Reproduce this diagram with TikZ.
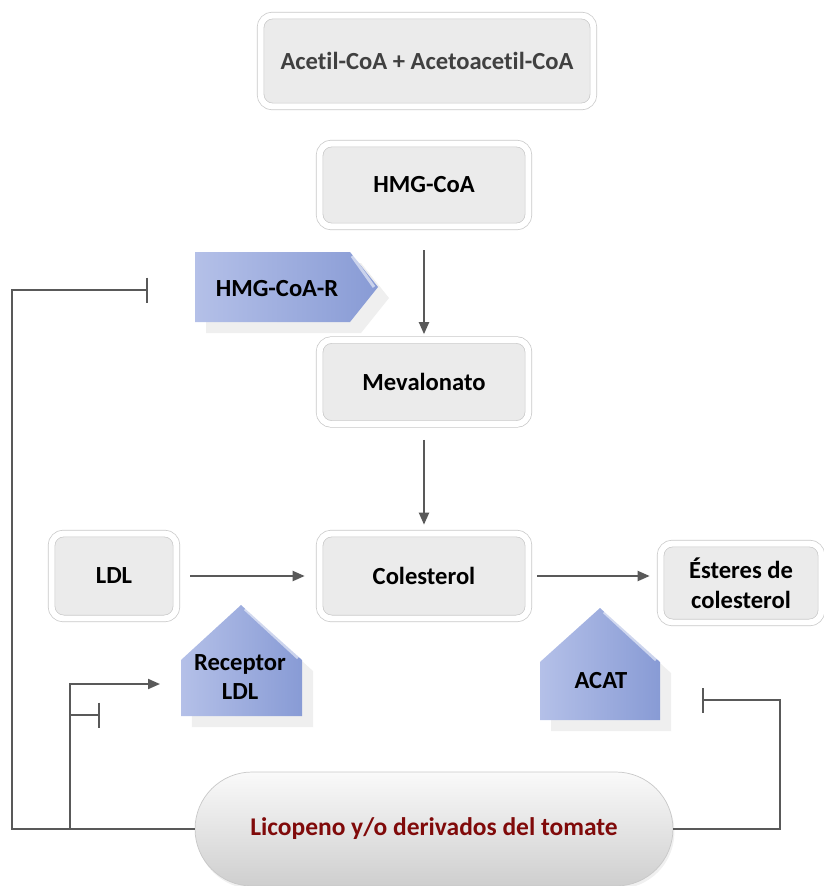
\documentclass[tikz,border=0pt]{standalone}
\usepackage{fontspec}
\setmainfont{Carlito}[Ligatures={NoCommon,NoContextual,NoRequired}]
\usetikzlibrary{shadows,arrows.meta}
\definecolor{boxfill}{RGB}{235,235,235}
\definecolor{boxline}{RGB}{200,200,200}
\definecolor{linegray}{RGB}{89,89,89}
\definecolor{enzleft}{RGB}{180,192,232}
\definecolor{enzright}{RGB}{136,155,213}
\definecolor{licored}{RGB}{128,10,10}
\definecolor{titlegray}{RGB}{64,64,64}

\begin{document}
\begin{tikzpicture}[x=0.02cm, y=-0.02cm,
    box_node/.style={rectangle, rounded corners=0.24cm, draw=boxline, double=white, double distance=0.12cm,
        fill=boxfill, font=\bfseries\fontsize{14}{17}\selectfont, align=center,
        drop shadow={opacity=0.15, shadow xshift=0.03cm, shadow yshift=-0.06cm}},
    enz_shape/.style={left color=enzleft, right color=enzright, draw=none,
        drop shadow={opacity=0.13, shadow xshift=0.22cm, shadow yshift=-0.22cm}},
    enz_node/.style={font=\bfseries\fontsize{14}{17}\selectfont, align=center},
    bevel/.style={draw=white, opacity=0.55, line width=0.06cm},
    link/.style={draw=linegray, line width=0.04cm},
    arr/.style={link, -{Triangle[length=0.24cm,width=0.2cm]}},
    stop/.style={link, -{Bar[width=0.5cm]}}]

    \useasboundingbox (0,0) rectangle (823,886);

    \node[box_node, minimum width=6.66cm, minimum height=1.82cm, text=titlegray] (1) at (427,61) {Acetil-CoA + Acetoacetil-CoA};
    \node[box_node, minimum width=4.18cm, minimum height=1.66cm] (2) at (424,185) {HMG-CoA};
    \node[box_node, minimum width=4.18cm, minimum height=1.68cm] (3) at (424,382) {Mevalonato};
    \node[box_node, minimum width=4.18cm, minimum height=1.7cm] (4) at (424,576) {Colesterol};
    \node[box_node, minimum width=2.5cm, minimum height=1.7cm] (9) at (114,576) {LDL};
    \node[box_node, minimum width=3.22cm, minimum height=1.58cm] (10) at (741,583) {Ésteres de\\colesterol};

    % enzimas
    \path[enz_shape] (195,252) -- (350,252) -- (378,287) -- (350,322) -- (195,322) -- cycle;
    \draw[bevel] (352,256) -- (374,287);
    \node[enz_node] (5) at (277,289) {HMG-CoA-R};
    \path[enz_shape] (181,660) -- (241,605) -- (302,660) -- (302,716) -- (181,716) -- cycle;
    \draw[bevel] (245,609) -- (298,658);
    \node[enz_node] (6) at (240,677) {Receptor\\LDL};
    \path[enz_shape] (540,662) -- (600,608) -- (660,662) -- (660,720) -- (540,720) -- cycle;
    \draw[bevel] (604,612) -- (656,660);
    \node[enz_node] (8) at (601,681) {ACAT};

    \node[rectangle, rounded corners=1.14cm, draw=boxline, top color=gray!4, bottom color=gray!38,
        minimum width=9.56cm, minimum height=2.28cm, text=licored,
        font=\bfseries\fontsize{14.5}{17}\selectfont,
        drop shadow={opacity=0.12, shadow xshift=0.03cm, shadow yshift=-0.06cm}] (7) at (434,829) {Licopeno y/o derivados del tomate};

    \draw[arr, shorten <=0.47cm, shorten >=0.11cm] (2) -- (3);
    \draw[arr, shorten <=0.31cm, shorten >=0.17cm] (3) -- (4);
    \draw[arr, shorten <=0.27cm, shorten >=0.29cm] (9) -- (4);
    \draw[arr, shorten <=0.17cm, shorten >=0.21cm] (4.east) -- (4.east -| 10.west);

    \coordinate (a) at (148,290);
    \coordinate (b) at (160,684);
    \coordinate (c) at (100,715);
    \coordinate (d) at (702,700);
    \draw[stop] (7.west) -- ++(-183,0) |- (a);
    \draw[arr] (70,829) |- (b);
    \draw[stop] (70,715) -- (c);
    \draw[stop] (7.east) -- ++(107,0) |- (d);
\end{tikzpicture}
\end{document}
